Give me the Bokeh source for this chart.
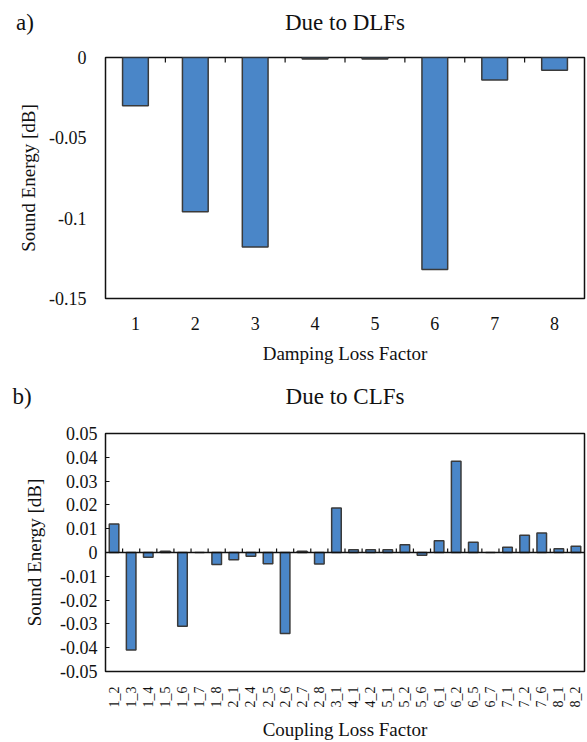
import math
from bokeh.plotting import figure
from bokeh.models import FixedTicker, Span, Range1d, LinearAxis
from bokeh.layouts import column
from bokeh.embed import file_html
from bokeh.resources import INLINE

# ---- data ----
dlf_factors = ["1", "2", "3", "4", "5", "6", "7", "8"]
dlf_values = [-0.030, -0.096, -0.118, -0.001, -0.001, -0.132, -0.014, -0.008]
dlf_yticks = [-0.15, -0.1, -0.05, 0]
dlf_ytick_labels = ["-0.15", "-0.1", "-0.05", "0"]

clf_factors = ["1_2", "1_3", "1_4", "1_5", "1_6", "1_7", "1_8", "2_1", "2_4", "2_5",
               "2_6", "2_7", "2_8", "3_1", "4_1", "4_2", "5_1", "5_2", "5_6", "6_1",
               "6_2", "6_5", "6_7", "7_1", "7_2", "7_6", "8_1", "8_2"]
clf_values = [0.012, -0.041, -0.002, 0.0005, -0.031, 0.0, -0.005, -0.003, -0.0016, -0.0047,
              -0.034, 0.0005, -0.0048, 0.0187, 0.0012, 0.0012, 0.0012, 0.0033, -0.0012, 0.0049,
              0.0383, 0.0043, 0.0, 0.0022, 0.0072, 0.0082, 0.0016, 0.0026]
clf_yticks = [-0.05, -0.04, -0.03, -0.02, -0.01, 0, 0.01, 0.02, 0.03, 0.04, 0.05]
clf_ytick_labels = ["-0.05", "-0.04", "-0.03", "-0.02", "-0.01", "0",
                    "0.01", "0.02", "0.03", "0.04", "0.05"]

panel_tags = ["a)", "b)"]
titles = ["Due to DLFs", "Due to CLFs"]

FONT = "Liberation Serif"
TXT = "#111111"
BAR_FILL = "#4A86C8"
BAR_LINE = "#3A3A3A"
NBSP = "\u00a0"


def style_common(p):
    p.title.visible = False
    p.xgrid.visible = False
    p.ygrid.visible = False
    p.outline_line_color = "#111111"
    p.outline_line_width = 1.5
    p.outline_line_alpha = 1.0
    p.background_fill_color = "white"
    p.border_fill_color = "white"
    for ax in (p.xaxis[0], p.yaxis[0]):
        ax.axis_line_color = None
        ax.minor_tick_line_color = None
        ax.major_label_text_font = FONT
        ax.major_label_text_color = TXT
        ax.axis_label_text_font = FONT
        ax.axis_label_text_color = TXT
        ax.axis_label_text_font_style = "normal"
        ax.axis_label_text_font_size = "19px"


def add_heading(p, tag, title, pad, standoff):
    # panel tag (left of the frame) and centred heading share one row above the frame
    start, end = p.x_range.start, p.x_range.end
    centre = (start + end) / 2
    top = LinearAxis(ticker=FixedTicker(ticks=[start, centre]),
                     major_label_overrides={start: tag + NBSP * pad, centre: title})
    top.axis_line_color = None
    top.major_tick_line_color = None
    top.minor_tick_line_color = None
    top.major_tick_in = 0
    top.major_tick_out = 0
    top.major_label_text_font = FONT
    top.major_label_text_font_size = "23px"
    top.major_label_text_color = TXT
    top.major_label_standoff = standoff
    p.add_layout(top, "above")


# ---- a) Due to DLFs ----
n1 = len(dlf_factors)
x1 = list(range(1, n1 + 1))
p1 = figure(width=587, height=372, x_range=Range1d(0.5, n1 + 0.5),
            y_range=Range1d(dlf_yticks[0], dlf_yticks[-1]),
            output_backend="svg", toolbar_location=None,
            min_border_left=103, min_border_right=3, min_border_top=57, min_border_bottom=74)
style_common(p1)
p1.vbar(x=x1, top=dlf_values, bottom=0, width=0.43,
        fill_color=BAR_FILL, line_color=BAR_LINE, line_width=1.5)
p1.ray(x=[v + 0.5 for v in x1[:-1]], y=[0] * (n1 - 1), length=5, length_units="screen",
       angle=-math.pi / 2, line_color="#111111", line_width=1.2)
p1.yaxis.ticker = FixedTicker(ticks=dlf_yticks)
p1.yaxis.major_label_overrides = dict(zip(dlf_yticks, dlf_ytick_labels))
p1.yaxis.major_tick_in = 0
p1.yaxis.major_tick_out = 0
p1.yaxis.major_label_standoff = 19
p1.yaxis.major_label_text_font_size = "18px"
p1.yaxis.axis_label = "Sound Energy [dB]"
p1.yaxis.axis_label_standoff = 7
p1.xaxis.ticker = FixedTicker(ticks=x1)
p1.xaxis.major_label_overrides = dict(zip(x1, dlf_factors))
p1.xaxis.major_tick_in = 0
p1.xaxis.major_tick_out = 0
p1.xaxis.major_label_standoff = 18
p1.xaxis.major_label_text_font_size = "18px"
p1.xaxis.axis_label = "Damping Loss Factor"
p1.xaxis.axis_label_standoff = 10
add_heading(p1, panel_tags[0], titles[0], pad=28, standoff=23)

# ---- b) Due to CLFs ----
n2 = len(clf_factors)
x2 = list(range(1, n2 + 1))
p2 = figure(width=587, height=370, x_range=Range1d(0.5, n2 + 0.5),
            y_range=Range1d(clf_yticks[0], clf_yticks[-1]),
            output_backend="svg", toolbar_location=None,
            min_border_left=105, min_border_right=2, min_border_top=61, min_border_bottom=69)
style_common(p2)
p2.add_layout(Span(location=0, dimension="width", line_color="#111111", line_width=1.5))
p2.vbar(x=x2, top=clf_values, bottom=0, width=0.56,
        fill_color=BAR_FILL, line_color=BAR_LINE, line_width=1.5)
p2.ray(x=[v + 0.5 for v in x2[:-1]], y=[0] * (n2 - 1), length=4, length_units="screen",
       angle=math.pi / 2, line_color="#111111", line_width=1.2)
p2.yaxis.ticker = FixedTicker(ticks=clf_yticks)
p2.yaxis.major_label_overrides = dict(zip(clf_yticks, clf_ytick_labels))
p2.yaxis.major_tick_in = 4
p2.yaxis.major_tick_out = 0
p2.yaxis.major_tick_line_color = "#111111"
p2.yaxis.major_label_standoff = 8
p2.yaxis.major_label_text_font_size = "18px"
p2.yaxis.axis_label = "Sound Energy [dB]"
p2.yaxis.axis_label_standoff = 12
p2.xaxis.ticker = FixedTicker(ticks=x2)
p2.xaxis.major_label_overrides = dict(zip(x2, clf_factors))
p2.xaxis.major_label_orientation = math.pi / 2
p2.xaxis.major_tick_in = 0
p2.xaxis.major_tick_out = 0
p2.xaxis.major_label_standoff = 15
p2.xaxis.major_label_text_font_size = "14px"
p2.xaxis.axis_label = "Coupling Loss Factor"
p2.xaxis.axis_label_standoff = 8
add_heading(p2, panel_tags[1], titles[1], pad=29, standoff=25)

layout = column(p1, p2, spacing=0)
open("out.html", "w").write(file_html(layout, INLINE))
